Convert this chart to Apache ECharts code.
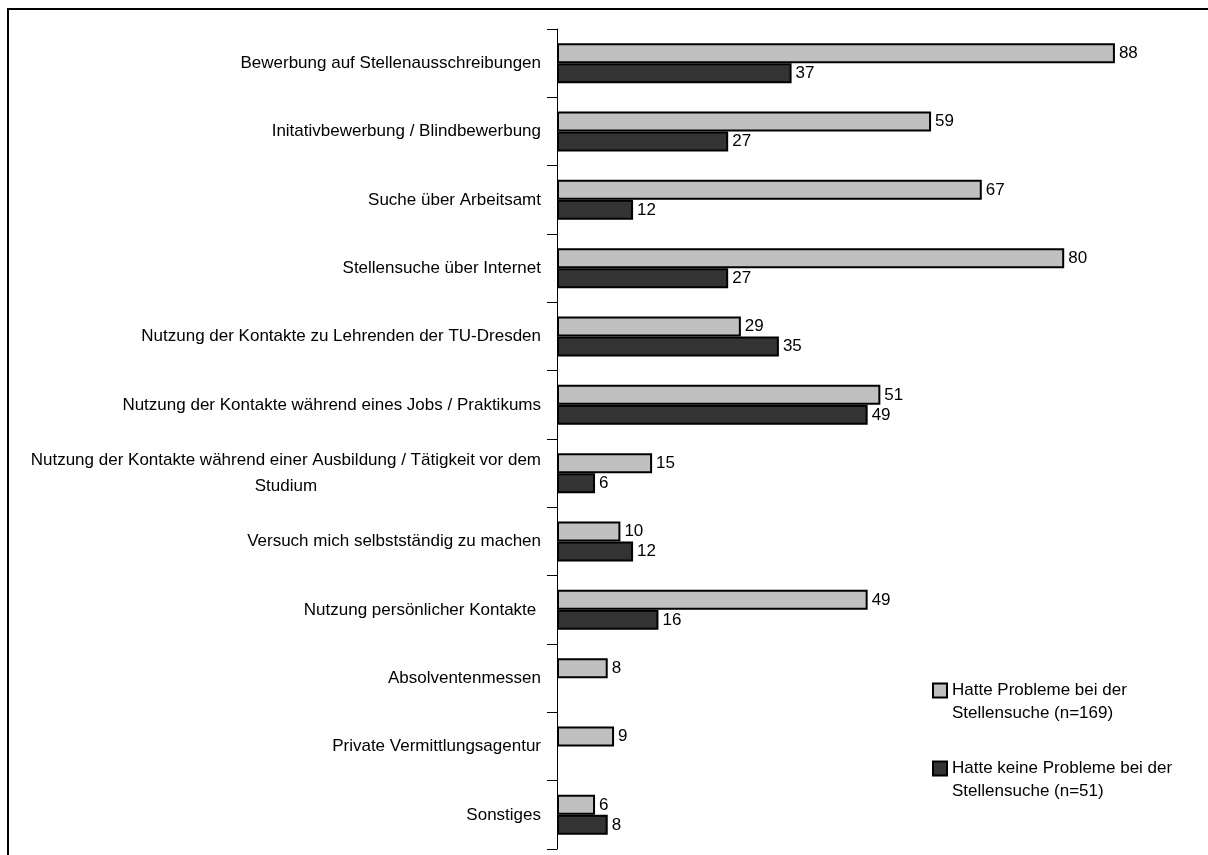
<!DOCTYPE html>
<html lang="de">
<head>
    <meta charset="UTF-8">
    <title>Stellensuche</title>
    <script src="https://cdn.jsdelivr.net/npm/echarts@6/dist/echarts.min.js"></script>
    <style>
        html, body { margin: 0; padding: 0; background: #fff; }
        #chart { width: 1208px; height: 855px; }
    </style>
</head>
<body>
    <div id="chart"></div>
    <script>
        // Kategorien (von oben nach unten)
        const categories = [
            'Bewerbung auf Stellenausschreibungen',
            'Initativbewerbung / Blindbewerbung',
            'Suche über Arbeitsamt',
            'Stellensuche über Internet',
            'Nutzung der Kontakte zu Lehrenden der TU-Dresden',
            'Nutzung der Kontakte während eines Jobs / Praktikums',
            'Nutzung der Kontakte während einer Ausbildung / Tätigkeit vor dem\nStudium',
            'Versuch mich selbstständig zu machen',
            'Nutzung persönlicher Kontakte ',
            'Absolventenmessen',
            'Private Vermittlungsagentur',
            'Sonstiges'
        ];
        const seriesNames = [
            'Hatte Probleme bei der\nStellensuche (n=169)',
            'Hatte keine Probleme bei der\nStellensuche (n=51)'
        ];
        const mitProblemen = [88, 59, 67, 80, 29, 51, 15, 10, 49, 8, 9, 6];
        const ohneProbleme = [37, 27, 12, 27, 35, 49, 6, 12, 16, '-', '-', 8];

        const font = "'Liberation Sans Narrow', 'Arial Narrow', 'Liberation Sans', sans-serif";

        const chart = echarts.init(document.getElementById('chart'));

        const barLabel = {
            show: true,
            position: 'right',
            distance: 4,
            color: '#000',
            fontSize: 17,
            fontFamily: font
        };

        chart.setOption({
            animation: false,
            graphic: [{
                type: 'rect',
                shape: { x: 8, y: 9, width: 1300, height: 900 },
                style: { fill: 'none', stroke: '#000', lineWidth: 2 },
                silent: true
            }],
            legend: {
                orient: 'vertical',
                left: 932,
                top: 656,
                padding: 0,
                itemWidth: 14,
                itemHeight: 14,
                itemGap: 9,
                icon: 'rect',
                // leere erste Zeile, damit das Symbol auf Höhe der ersten Textzeile sitzt
                formatter: name => '\n' + name,
                textStyle: {
                    fontSize: 17,
                    fontFamily: font,
                    color: '#000',
                    lineHeight: 23
                },
                data: seriesNames
            },
            grid: { left: 557, right: 17, top: 29, bottom: 6, containLabel: false },
            xAxis: {
                type: 'value',
                min: 0,
                max: 100,
                show: false
            },
            yAxis: {
                type: 'category',
                data: categories,
                inverse: true,
                axisLine: { show: true, lineStyle: { color: '#000', width: 1 } },
                axisTick: { show: true, length: 10, lineStyle: { color: '#000' } },
                axisLabel: {
                    margin: 16,
                    color: '#000',
                    fontSize: 17,
                    fontFamily: font,
                    formatter: v => '{c|' + v + '}',
                    rich: {
                        c: { align: 'center', fontSize: 17, fontFamily: font, lineHeight: 26, color: '#000' }
                    }
                }
            },
            series: [{
                name: seriesNames[0],
                type: 'bar',
                data: mitProblemen,
                barWidth: 20,
                barGap: '0%',
                itemStyle: { color: '#c0c0c0', borderColor: '#000', borderWidth: 2 },
                label: barLabel
            }, {
                name: seriesNames[1],
                type: 'bar',
                data: ohneProbleme,
                barWidth: 20,
                itemStyle: { color: '#333333', borderColor: '#000', borderWidth: 2 },
                label: barLabel
            }]
        });
    </script>
</body>
</html>
